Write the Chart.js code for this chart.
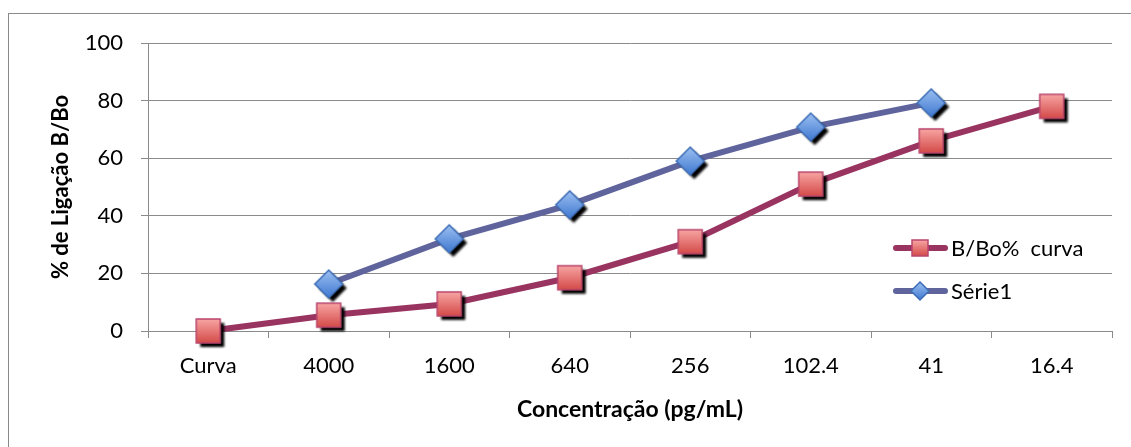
<!DOCTYPE html>
<html>
<head>
<meta charset="utf-8">
<script src="https://cdn.jsdelivr.net/npm/chart.js@4"></script>
<style>
  html, body { margin: 0; padding: 0; background: #fff; }
  #wrap { position: relative; width: 1131px; height: 447px; }
</style>
</head>
<body>
<div id="wrap"><canvas id="chart"></canvas></div>
<script>
const categories = ['Curva', '4000', '1600', '640', '256', '102.4', '41', '16.4'];
const curvaValues = [0, 5.5, 9.4, 18.5, 31, 51, 66, 78];
const serie1Values = [null, 16.3, 32, 43.8, 59, 70.8, 79.2, null];
const yTicks = [0, 20, 40, 60, 80, 100];

const FONT = 'Lato, "Open Sans", sans-serif';

// marker images (optionally with a drop shadow), drawn centered on each point
function makeMarker(kind, half, shadow) {
  const size = 44;
  const c = document.createElement('canvas');
  c.width = size; c.height = size;
  const g = c.getContext('2d');
  const cx = size / 2, cy = size / 2;
  const d = kind === 'square' ? half : half + 2;
  const shape = (dx, dy) => {
    g.beginPath();
    if (kind === 'square') {
      g.rect(cx - d + dx, cy - d + dy, 2 * d, 2 * d);
    } else {
      g.moveTo(cx + dx, cy - d + dy);
      g.lineTo(cx + d + dx, cy + dy);
      g.lineTo(cx + dx, cy + d + dy);
      g.lineTo(cx - d + dx, cy + dy);
      g.closePath();
    }
  };
  if (shadow) {
    g.filter = 'blur(0.8px)';
    g.fillStyle = '#000';
    shape(4, 4);
    g.fill();
    g.filter = 'none';
  }
  const grad = g.createLinearGradient(0, cy - d, 0, cy + d);
  if (kind === 'square') {
    grad.addColorStop(0, '#f7a5a3');
    grad.addColorStop(1, '#d44a48');
  } else {
    grad.addColorStop(0, '#9cc0f2');
    grad.addColorStop(1, '#3f78d0');
  }
  shape(0, 0);
  g.fillStyle = grad;
  g.fill();
  g.lineWidth = 1.5;
  g.strokeStyle = kind === 'square' ? '#b9456e' : '#3d6db5';
  g.stroke();
  return c;
}

const squareImg = makeMarker('square', 12, true);
const diamondImg = makeMarker('diamond', 12, true);
const squareLegend = makeMarker('square', 8, false);
const diamondLegend = makeMarker('diamond', 7, false);

const frameAndLegend = {
  id: 'frameAndLegend',
  beforeDraw(chart) {
    const ctx = chart.ctx;
    ctx.save();
    ctx.strokeStyle = '#8a8a8a';
    ctx.lineWidth = 1;
    ctx.strokeRect(8.5, 13.5, 1200, 500);
    ctx.restore();
  },
  afterDraw(chart) {
    const ctx = chart.ctx;
    const rows = [
      { label: 'B/Bo%  curva', color: '#993461', img: squareLegend, y: 248 },
      { label: 'Série1', color: '#5f649d', img: diamondLegend, y: 291 }
    ];
    ctx.save();
    rows.forEach(r => {
      ctx.strokeStyle = r.color;
      ctx.lineWidth = 6;
      ctx.lineCap = 'round';
      ctx.beginPath();
      ctx.moveTo(896, r.y);
      ctx.lineTo(945, r.y);
      ctx.stroke();
      ctx.drawImage(r.img, 920 - 22, r.y - 22);
      ctx.fillStyle = '#000';
      ctx.font = '22px ' + FONT;
      ctx.textBaseline = 'middle';
      ctx.fillText(r.label, 951, r.y + 1);
    });
    ctx.restore();
  }
};

new Chart(document.getElementById('chart'), {
  type: 'line',
  data: {
    labels: categories,
    datasets: [
      {
        label: 'B/Bo%  curva',
        data: curvaValues,
        borderColor: '#993461',
        borderWidth: 6,
        pointStyle: squareImg,
        tension: 0,
        clip: false
      },
      {
        label: 'Série1',
        data: serie1Values,
        borderColor: '#5f649d',
        borderWidth: 6,
        pointStyle: diamondImg,
        tension: 0,
        clip: false
      }
    ]
  },
  options: {
    responsive: true,
    maintainAspectRatio: false,
    animation: false,
    layout: { padding: { left: 0, top: 43, right: 19, bottom: 0 } },
    plugins: {
      legend: { display: false },
      tooltip: { enabled: false }
    },
    scales: {
      x: {
        offset: true,
        grid: { offset: true, drawOnChartArea: false, tickLength: 7, color: '#8a8a8a' },
        border: { color: '#8a8a8a' },
        ticks: { color: '#000', font: { family: FONT, size: 22 }, padding: 15, maxRotation: 0 },
        title: {
          display: true,
          text: 'Concentração (pg/mL)',
          color: '#000',
          font: { family: FONT, size: 23, weight: 'bold' },
          padding: { top: 0, bottom: 24 }
        },
        afterFit(scale) { scale.height = 116; }
      },
      y: {
        min: 0,
        max: 100,
        afterBuildTicks(scale) { scale.ticks = yTicks.map(v => ({ value: v })); },
        grid: { color: '#8a8a8a', tickLength: 7 },
        border: { color: '#8a8a8a' },
        ticks: { color: '#000', font: { family: FONT, size: 22 }, padding: 18 },
        title: {
          display: true,
          text: '% de Ligação B/Bo',
          color: '#000',
          font: { family: FONT, size: 22, weight: 'bold' },
          padding: { top: 48, bottom: 0 }
        },
        afterFit(scale) { scale.width = 148; }
      }
    }
  },
  plugins: [frameAndLegend]
});
</script>
</body>
</html>
